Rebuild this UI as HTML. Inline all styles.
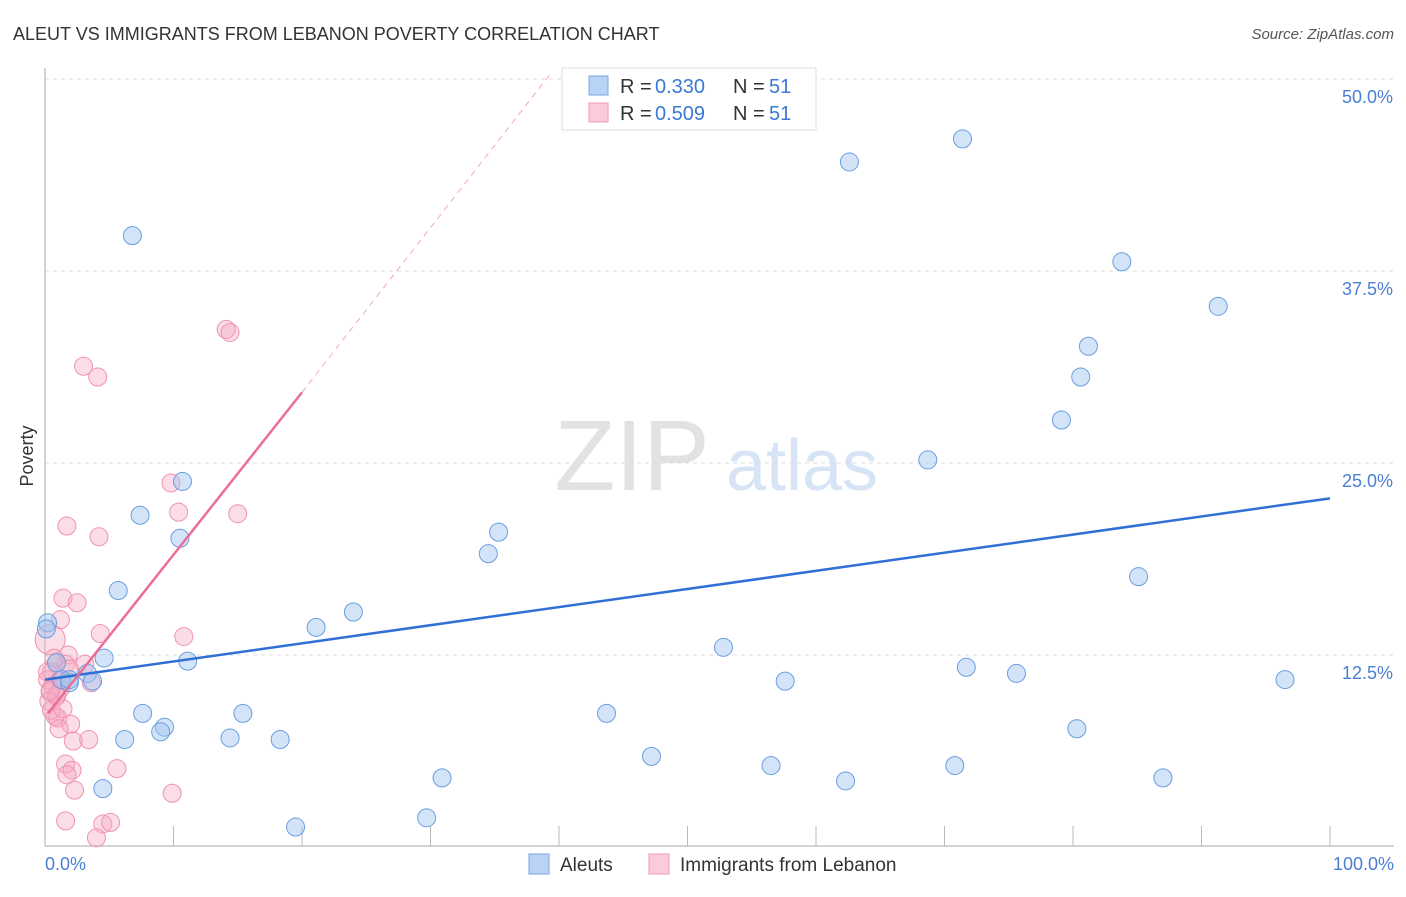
<!DOCTYPE html>
<html><head><meta charset="utf-8"><style>
body{margin:0;background:#fff;font-family:"Liberation Sans",sans-serif}
svg text{font-family:"Liberation Sans",sans-serif}
</style></head><body>
<svg width="1406" height="892">
<text x="13" y="40" font-size="18" fill="#333">ALEUT VS IMMIGRANTS FROM LEBANON POVERTY CORRELATION CHART</text>
<text x="1394" y="39" font-size="15" fill="#555" font-style="italic" text-anchor="end">Source: ZipAtlas.com</text>
<text x="632" y="490" font-size="100" fill="#e2e2e2" font-family="Liberation Serif" text-anchor="middle">ZIP</text>
<text x="802" y="490" font-size="72" fill="#d6e4f6" text-anchor="middle">atlas</text>
<g id="grid"></g>
<line x1="45" y1="68" x2="45" y2="846" stroke="#aaa"/>
<line x1="45" y1="846" x2="1394" y2="846" stroke="#aaa"/>
<text transform="translate(33,456) rotate(-90)" font-size="18" fill="#333" text-anchor="middle">Poverty</text>
<text x="45" y="870" font-size="18" fill="#4a7fd4">0.0%</text>
<text x="1394" y="870" font-size="18" fill="#4a7fd4" text-anchor="end">100.0%</text>
<g id="pts"></g><g id="trend"></g>
<g>
<rect x="562" y="68" width="254" height="62" fill="#fff" stroke="#ddd"/>
<rect x="589" y="76" width="19" height="19" fill="#b8d3f5" stroke="#7aa6e0"/>
<rect x="589" y="103" width="19" height="19" fill="#fbcbd9" stroke="#f09ab4"/>
<text x="620" y="93" font-size="20" fill="#333">R = </text><text x="655" y="93" font-size="20" fill="#3a78d4">0.330</text>
<text x="733" y="93" font-size="20" fill="#333">N = </text><text x="769" y="93" font-size="20" fill="#3a78d4">51</text>
<text x="620" y="120" font-size="20" fill="#333">R = </text><text x="655" y="120" font-size="20" fill="#3a78d4">0.509</text>
<text x="733" y="120" font-size="20" fill="#333">N = </text><text x="769" y="120" font-size="20" fill="#3a78d4">51</text>
</g>
<g>
<rect x="529" y="854" width="20" height="20" fill="#b8d3f5" stroke="#7aa6e0"/>
<text x="560" y="871" font-size="19" fill="#333">Aleuts</text>
<rect x="649" y="854" width="20" height="20" fill="#fbcbd9" stroke="#f09ab4"/>
<text x="680" y="871" font-size="19" fill="#333">Immigrants from Lebanon</text>
</g>
</svg>
<script>
const yTicks=[12.5,25,37.5,50];
const yTickLabels=["12.5%","25.0%","37.5%","50.0%"];
const xTicks=[10,20,30,40,50,60,70,80,90,100];
const aleutX=[6.8,10.7,7.4,10.5,5.7,0.2,4.6,11.1,0.9,1.3,1.9,3.3,3.7,7.6,6.2,9.3,9.0,14.4,15.4,18.3,4.5,19.5,21.1,24.0,35.3,34.5,30.9,29.7,43.7,47.2,52.8,57.6,56.5,62.3,62.6,71.4,68.7,71.7,70.8,75.6,83.8,81.2,80.6,79.1,85.1,80.3,87.0,91.3,96.5,0.1,1.9];
const aleutY=[39.8,23.8,21.6,20.1,16.7,14.6,12.3,12.1,12.0,10.9,10.7,11.3,10.8,8.7,7.0,7.8,7.5,7.1,8.7,7.0,3.8,1.3,14.3,15.3,20.5,19.1,4.5,1.9,8.7,5.9,13.0,10.8,5.3,4.3,44.6,46.1,25.2,11.7,5.3,11.3,38.1,32.6,30.6,27.8,17.6,7.7,4.5,35.2,10.9,14.2,10.9];
const lebX=[14.1,14.4,3.0,4.1,9.8,10.4,15.0,1.7,4.2,1.4,2.5,1.2,4.3,10.8,0.4,1.8,0.9,1.6,3.1,0.5,0.2,0.6,1.2,0.4,0.9,3.6,0.3,0.8,1.0,2.0,1.1,2.2,3.4,5.6,1.6,2.1,1.7,2.3,9.9,1.6,4.5,5.1,4.0,0.9,1.2,0.2,1.9,0.5,1.4,0.4,0.7];
const lebY=[33.7,33.5,31.3,30.6,23.7,21.8,21.7,20.9,20.2,16.2,15.9,14.8,13.9,13.7,13.5,12.5,12.0,11.9,11.9,11.4,10.9,10.5,10.3,10.1,9.8,10.7,9.5,8.5,8.4,8.0,7.7,6.9,7.0,5.1,5.4,5.0,4.7,3.7,3.5,1.7,1.5,1.6,0.6,9.9,10.9,11.4,11.6,8.9,9.0,10.2,12.3];
const blueTrend=[[0,10.9],[100,22.7]];
const pinkTrend=[[0.23,8.7],[20,29.6]];
const pinkDash=[[20,29.6],[39.3,50.3]];
const X=v=>45+v*12.85, Y=v=>847-v*15.36;
const NS="http://www.w3.org/2000/svg";
function mk(t,a,p){const e=document.createElementNS(NS,t);for(const k in a)e.setAttribute(k,a[k]);p.appendChild(e);return e;}
const grid=document.getElementById('grid');
yTicks.forEach((t,i)=>{
 const l=mk('line',{x1:45,x2:1394,y1:Y(t),y2:Y(t),stroke:'#ddd','stroke-dasharray':'4,4'},grid);
 
 
 const tx=mk('text',{x:1393,y:Y(t)+24,'font-size':18,fill:'#4a7fd4','text-anchor':'end'},grid);
 tx.textContent=yTickLabels[i];
 
 
});
xTicks.forEach(t=>{
 const l=mk('line',{x1:X(t),x2:X(t),y1:826,y2:846,stroke:'#bbb'},grid);
 
 
});
const pts=document.getElementById('pts');
lebX.forEach((x,i)=>{
 const c=mk('circle',{cx:X(x),cy:Y(lebY[i]),r:i==14?15:9,fill:'rgba(246,170,196,0.4)',stroke:'#f093b0','stroke-width':1},pts);
 
 
});
aleutX.forEach((x,i)=>{
 const c=mk('circle',{cx:X(x),cy:Y(aleutY[i]),r:9,fill:'rgba(160,196,240,0.45)',stroke:'#6a9ee0','stroke-width':1},pts);
 
 
});
const tr=document.getElementById('trend');
const bl=mk('line',{x1:X(blueTrend[0][0]),y1:Y(blueTrend[0][1]),x2:X(blueTrend[1][0]),y2:Y(blueTrend[1][1]),stroke:'#2f6fd6','stroke-width':2.5},tr);


const pl=mk('line',{x1:X(pinkTrend[0][0]),y1:Y(pinkTrend[0][1]),x2:X(pinkTrend[1][0]),y2:Y(pinkTrend[1][1]),stroke:'#ec6d96','stroke-width':2.5},tr);


const pd=mk('line',{x1:X(pinkDash[0][0]),y1:Y(pinkDash[0][1]),x2:X(pinkDash[1][0]),y2:Y(pinkDash[1][1]),stroke:'#f0a8bf','stroke-width':1,'stroke-dasharray':'6,5'},tr);


</script>
</body></html>
